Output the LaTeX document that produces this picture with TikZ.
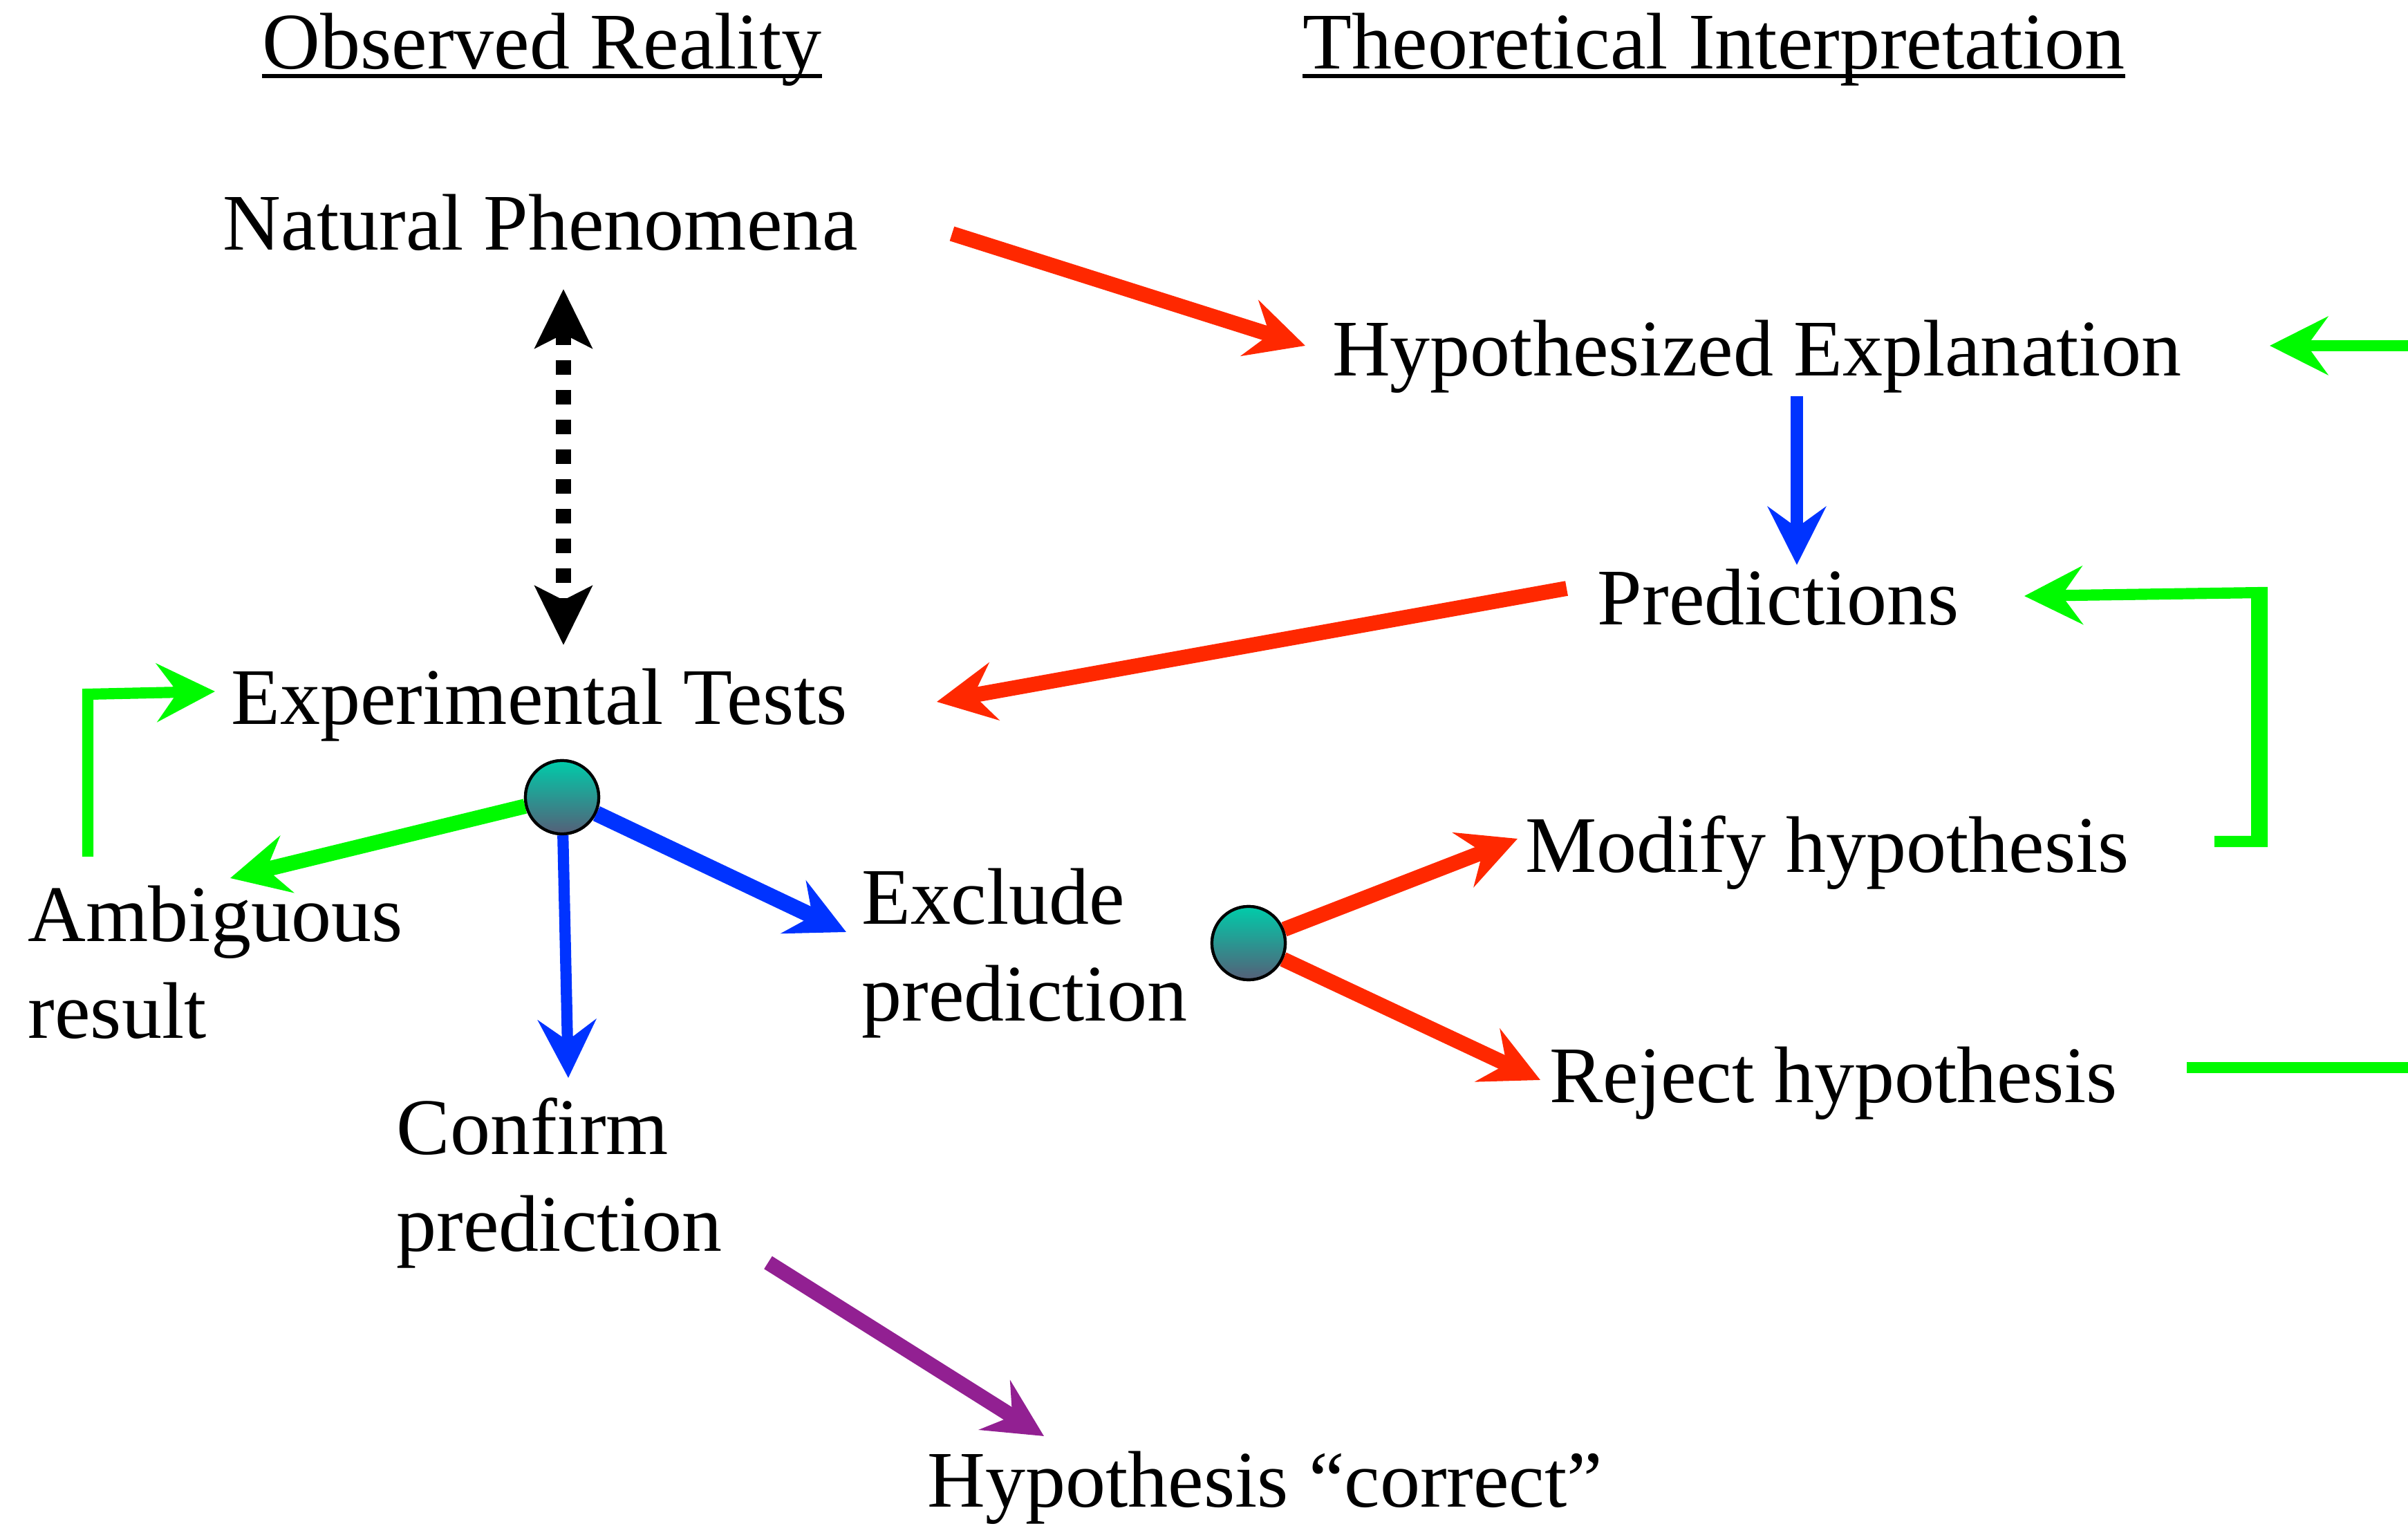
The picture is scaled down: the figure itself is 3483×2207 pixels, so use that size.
\documentclass[tikz,border=0pt]{standalone}
\usepackage{fontspec}
\setmainfont{Liberation Serif}
\usetikzlibrary{arrows.meta}
\definecolor{rd}{RGB}{255,40,0}
\definecolor{bl}{RGB}{0,51,255}
\definecolor{gr}{RGB}{0,250,0}
\definecolor{pu}{RGB}{146,32,146}
\definecolor{dtop}{RGB}{0,204,170}
\definecolor{dbot}{RGB}{85,95,120}
\begin{document}
\begin{tikzpicture}[x=0.01cm,y=-0.01cm,
  lbl/.style={inner sep=0pt, font=\fontsize{33}{40}\selectfont, anchor=base},
  lbll/.style={lbl, align=left, anchor=base west},
  uline/.style={line width=1.5pt},
  tipx/.style={-{Stealth[length=0.84cm,width=0.84cm,inset=0.3cm]}},
  conn/.style={line width=6.2pt, tipx},
  thin/.style={line width=4.6pt, tipx},
  dot/.style={circle, minimum size=1.06cm, inner sep=0pt, draw=black, line width=1.2pt, top color=dtop, bottom color=dbot}]
\useasboundingbox (0,0) rectangle (3483,2207);

% headers
\node[lbl] (OR) at (784,100) {Observed Reality};
\node[lbl] (TI) at (2479,100) {Theoretical Interpretation};
\draw[uline] ([yshift=-0.1cm]OR.base west) -- ([yshift=-0.1cm]OR.base east);
\draw[uline] ([yshift=-0.1cm]TI.base west) -- ([yshift=-0.1cm]TI.base east);

% labels
\node[lbl] (NP) at (782,362) {Natural Phenomena};
\node[lbl] (HE) at (2541,544) {Hypothesized Explanation};
\node[lbl] (PR) at (2572,904) {Predictions};
\node[lbl] (ET) at (780,1048) {Experimental Tests};
\node[lbll] (AR) at (40,1502) {Ambiguous\\result};
\node[lbll] (EP) at (1246,1477) {Exclude\\prediction};
\node[lbll] (CP) at (573,1810) {Confirm\\prediction};
\node[lbl] (MH) at (2643,1262) {Modify hypothesis};
\node[lbl] (RH) at (2652,1595) {Reject hypothesis};
\node[lbl] (HC) at (1830,2179) {Hypothesis “correct”};

% dots
\node[dot] (D1) at (813,1153) {};
\node[dot] (D2) at (1806,1364) {};

% coordinates
\coordinate (a1s) at (1377,338);  \coordinate (a1e) at (1888,500);
\coordinate (a2s) at (2599,573);  \coordinate (a2e) at (2599,817);
\coordinate (a3s) at (2266,851);  \coordinate (a3e) at (1355,1015);
\coordinate (a4s) at (815,418);   \coordinate (a4e) at (815,933);
\coordinate (g1s) at (127,1239); \coordinate (g1c) at (127,1004); \coordinate (g1e) at (311,1000);
\coordinate (g2e) at (333,1270);
\coordinate (b1e) at (1224,1348);
\coordinate (b2e) at (822,1559);
\coordinate (r1e) at (2195,1213);
\coordinate (r2e) at (2228,1562);
\coordinate (g3s) at (3203,1217); \coordinate (g3c) at (3272,1217); \coordinate (g3d) at (3272,857); \coordinate (g3e) at (2928,862);
\coordinate (g4s) at (3483,500);  \coordinate (g4e) at (3283,500);
\coordinate (g5s) at (3163,1544); \coordinate (g5e) at (3483,1544);
\coordinate (p1s) at (1111,1826); \coordinate (p1e) at (1510,2077);

% connectors
\draw[conn, rd] (a1s) -- (a1e);
\draw[conn, line width=5pt, bl] (a2s) -- (a2e);
\draw[conn, rd] (a3s) -- (a3e);
\draw[line width=6.3pt, dash pattern=on 0.21cm off 0.22cm,
  {Stealth[length=0.85cm,width=0.82cm,inset=0.2cm]}-{Stealth[length=0.85cm,width=0.82cm,inset=0.2cm]}] (a4s) -- (a4e);
\draw[thin, gr] (g1s) -- (g1c) -- (g1e);
\draw[conn, gr] (D1) -- (g2e);
\draw[conn, line width=6.6pt, bl] (D1) -- (b1e);
\draw[thin, bl] (D1) -- (b2e);
\draw[conn, rd] (D2) -- (r1e);
\draw[conn, rd] (D2) -- (r2e);
\draw[thin, gr] (g3s) -- (g3c) -- (g3d) -- (g3e);
\draw[line width=4.6pt, gr] ([xshift=-0.08cm]g3c) -- ([xshift=-0.08cm]g3d);
\draw[thin, gr] (g4s) -- (g4e);
\draw[line width=4.6pt, gr] (g5s) -- (g5e);
\draw[conn, pu] (p1s) -- (p1e);

\node[dot] at (D1) {};
\node[dot] at (D2) {};
\end{tikzpicture}
\end{document}
